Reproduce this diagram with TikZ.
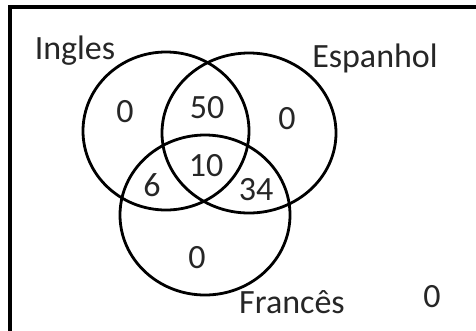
\documentclass[tikz,border=0pt]{standalone}
\usepackage{fontspec}
\setmainfont{Carlito}
\begin{document}
\begin{tikzpicture}[x=1pt,y=-1pt,
  circ/.style={line width=2.8pt},
  lbl/.style={font=\fontsize{34}{36}\selectfont, text=black!85, inner sep=0pt},
  num/.style={font=\fontsize{34}{36}\selectfont, text=black!85, inner sep=0pt, anchor=center}]
\useasboundingbox (0,0) rectangle (476,330);
\fill[white] (0,0) rectangle (476,330);
% frame
\draw[line width=3.5pt] (10,340) -- (10,7) -- (490,7);
% circles
\draw[circ] (166,131) ellipse [x radius=83pt, y radius=79pt];
\draw[circ] (249,133) ellipse [x radius=87pt, y radius=80pt];
\draw[circ] (205,215) ellipse [x radius=85pt, y radius=80pt];
% set labels
\node[lbl, anchor=base] (ing) at (75,59) {Ingles};
\node[lbl, anchor=base] (esp) at (375,67) {Espanhol};
\node[lbl, anchor=base] (fra) at (292,313) {Francês};
% counts
\node[num] (n1) at (125,112) {0};
\node[num] (n2) at (207,108) {50};
\node[num] (n3) at (287,119) {0};
\node[num] (n4) at (206,166) {10};
\node[num] (n5) at (152,185) {6};
\node[num] (n6) at (256,190) {34};
\node[num] (n7) at (197,258) {0};
\node[num] (n8) at (432,297) {0};
\end{tikzpicture}
\end{document}
